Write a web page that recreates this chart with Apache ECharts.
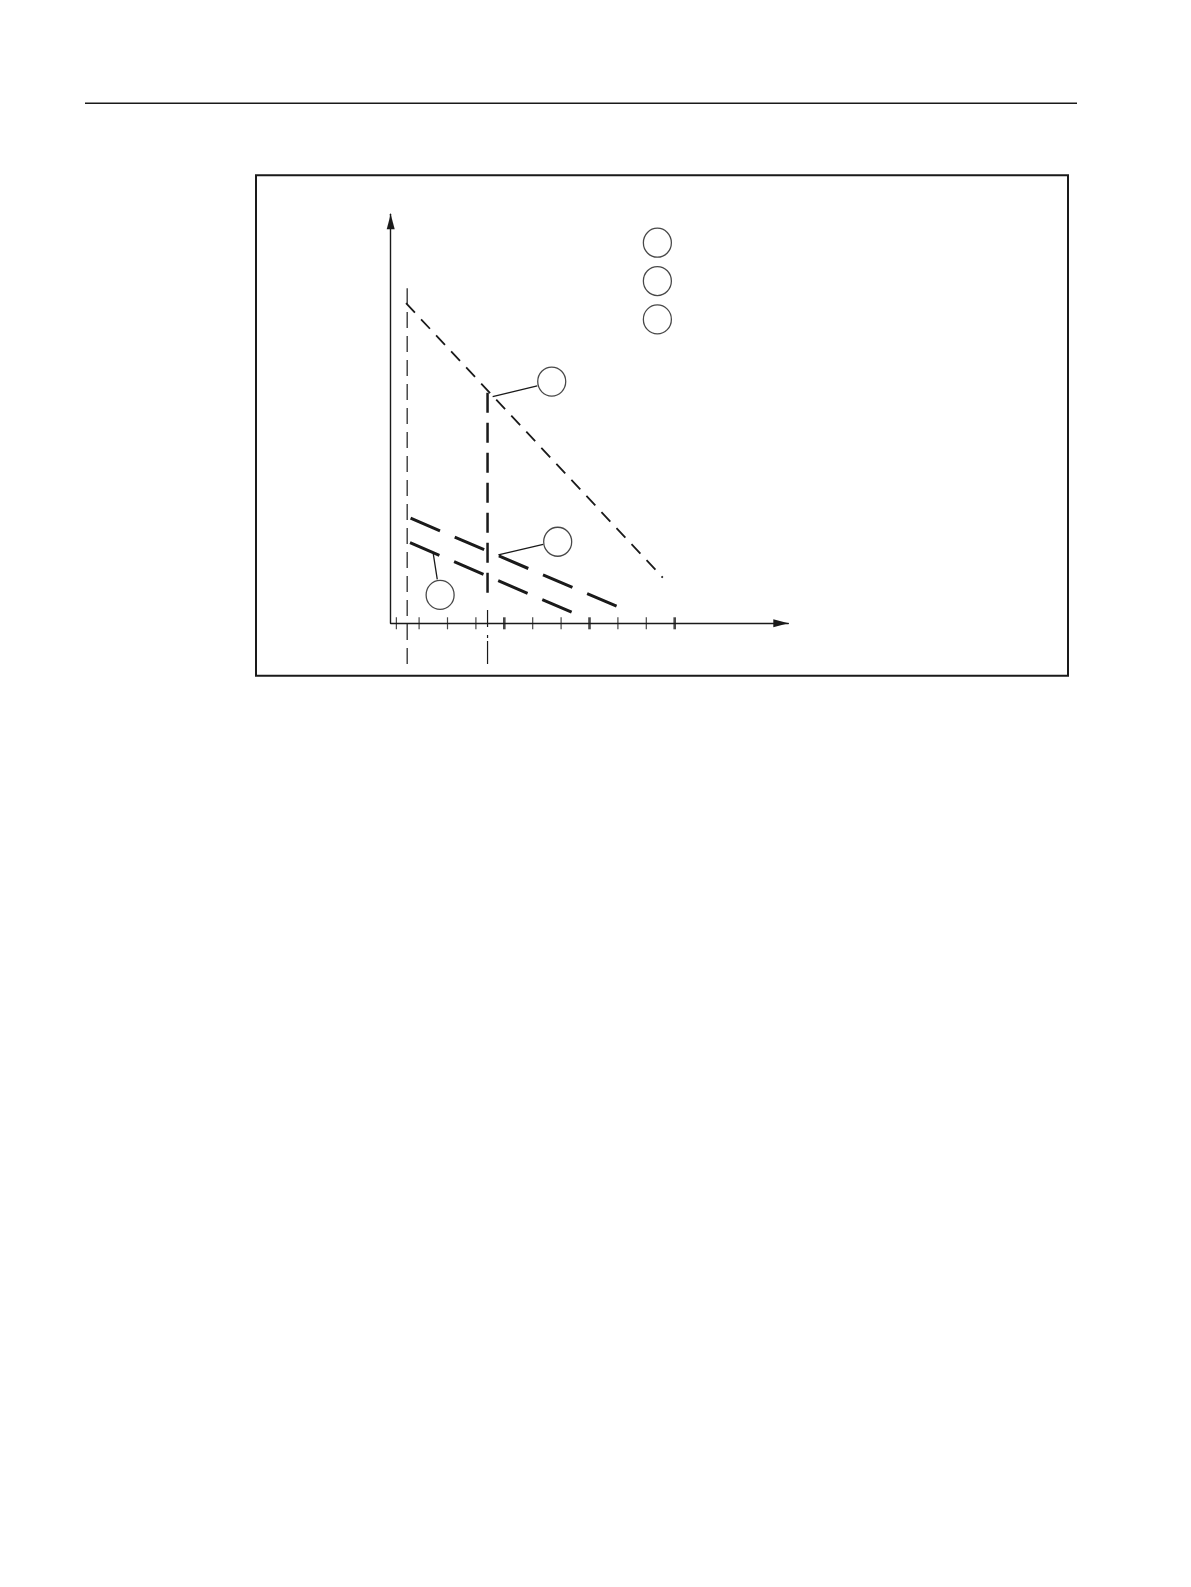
<!DOCTYPE html>
<html>
<head>
<meta charset="utf-8">
<script src="https://cdn.jsdelivr.net/npm/echarts@6/dist/echarts.min.js"></script>
<style>
  html, body { margin: 0; padding: 0; background: #fff; }
  #chart { width: 1191px; height: 1587px; }
</style>
</head>
<body>
<div id="chart"></div>
<script>
// axis ticks (x units)
var tickMinor = [0.2, 1, 2, 3, 5, 6, 8, 9];
var tickMajor = [4, 7, 10];

// reference verticals
var vertLeft = [[0.58, -1.43], [0.58, 11.8]];
var vertMidBold = [[3.41, 8.12], [3.41, 1.05]];
var vertMidThin = [[3.41, -1.43], [3.41, 0.47]];

// sloped lines
var lineTop = [[0.54, 11.27], [9.58, 1.61]];
var lineUpper = [[0.70, 3.70], [7.98, 0.59]];
var lineLower = [[0.68, 2.84], [6.37, 0.39]];

// callout circles + leaders
var legendCircles = [[9.39, 13.40], [9.39, 12.05], [9.39, 10.70]];
var calloutCircles = [[5.67, 8.51], [5.88, 2.87], [1.74, 1.00]];
var leader1 = [[5.16, 8.36], [3.59, 7.98]];
var leader2 = [[5.37, 2.78], [3.79, 2.41]];
var leader3 = [[1.50, 2.44], [1.64, 1.55]];

var ink = '#1a1a1a';

var myChart = echarts.init(document.getElementById('chart'));

function seg(data, width, type) {
  return {
    type: 'line',
    data: data,
    symbol: 'none',
    clip: false,
    silent: true,
    lineStyle: { color: ink, width: width, type: type }
  };
}

function dots(data, size, w) {
  return {
    type: 'scatter',
    data: data.map(function (v) { return [v, 0]; }),
    symbol: 'rect',
    symbolSize: [w, size],
    clip: false,
    silent: true,
    itemStyle: { color: ink }
  };
}

function rings(data) {
  return {
    type: 'scatter',
    data: data,
    symbol: 'circle',
    symbolSize: [28, 29],
    clip: false,
    silent: true,
    itemStyle: { color: 'rgba(0,0,0,0)', borderColor: ink, borderWidth: 1.3 }
  };
}

var option = {
  animation: false,
  backgroundColor: '#fff',
  grid: { left: 390.7, top: 214.3, width: 397.6, height: 409 },
  xAxis: {
    type: 'value', min: 0, max: 14,
    axisLine: {
      onZero: false,
      lineStyle: { color: ink, width: 1.4 },
      symbol: ['none', 'triangle'], symbolSize: [8, 15], symbolOffset: [0, -7.5]
    },
    axisTick: { show: false }, axisLabel: { show: false }, splitLine: { show: false }
  },
  yAxis: {
    type: 'value', min: 0, max: 14.4,
    axisLine: {
      show: true, onZero: false,
      lineStyle: { color: ink, width: 1.4 },
      symbol: ['none', 'triangle'], symbolSize: [8, 15], symbolOffset: [0, -7.5]
    },
    axisTick: { show: false }, axisLabel: { show: false }, splitLine: { show: false }
  },
  graphic: [
    { type: 'line', shape: { x1: 85, y1: 103.3, x2: 1077, y2: 103.3 }, style: { stroke: ink, lineWidth: 1.5 } },
    { type: 'rect', shape: { x: 256, y: 175.3, width: 812, height: 500.4 }, style: { stroke: ink, lineWidth: 2, fill: null } }
  ],
  series: [
    seg(vertLeft, 1.2, [16, 8]),
    seg(vertMidBold, 2.5, [20, 10]),
    seg(vertMidThin, 1.2, [23, 3, 3, 8, 17, 30]),
    seg(lineTop, 1.8, [13, 9]),
    seg(lineUpper, 3, [32, 16]),
    seg(lineLower, 3, [32, 16]),
    seg(leader1, 1.3, 'solid'),
    seg(leader2, 1.3, 'solid'),
    seg(leader3, 1.3, 'solid'),
    dots(tickMinor, 12, 1.2),
    dots(tickMajor, 12, 2.6),
    rings(legendCircles),
    rings(calloutCircles)
  ]
};

myChart.setOption(option);
</script>
</body>
</html>
